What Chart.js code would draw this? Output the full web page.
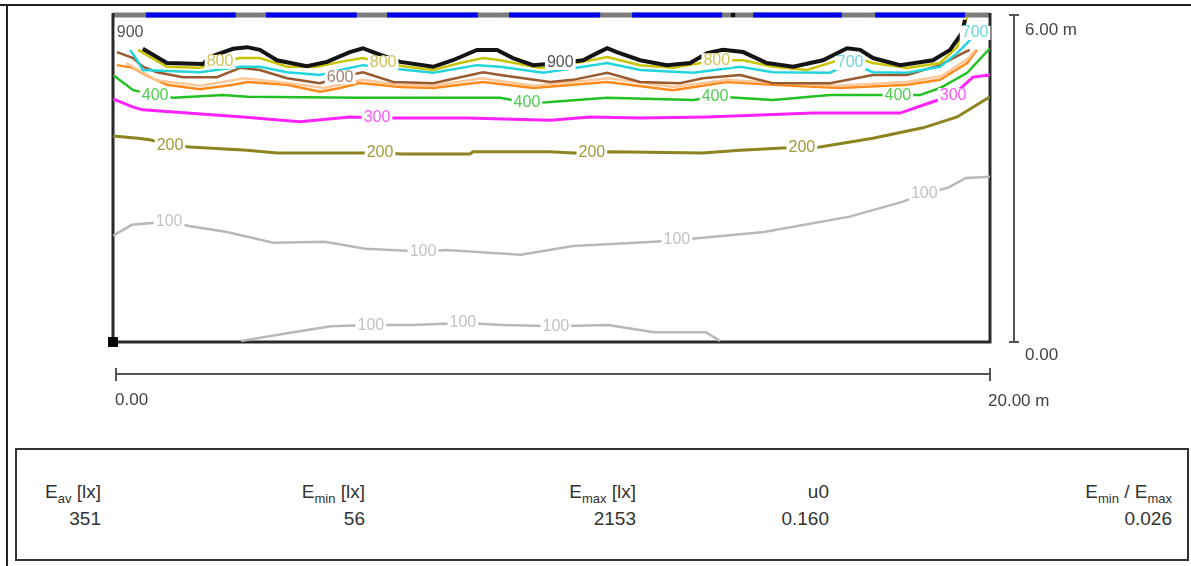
<!DOCTYPE html>
<html>
<head>
<meta charset="utf-8">
<script src="https://cdn.jsdelivr.net/npm/chart.js@4/dist/chart.umd.min.js"></script>
<style>
  body { margin: 0; width: 1191px; height: 566px; overflow: hidden; position: relative; background: #fff;
         font-family: "Liberation Sans", Arial, sans-serif; }
  #plot { position: absolute; left: 0; top: 0; }
  .edgeTop { position: absolute; left: 0; top: 4px; width: 1191px; height: 2px; background: #222; }
  .edgeLeft { position: absolute; left: 6px; top: 4px; width: 2px; height: 562px; background: #222; }
  .stats { position: absolute; left: 15px; top: 448px; width: 1174px; height: 113px; border: 2px solid #333; box-sizing: border-box; }
  .cell { position: absolute; width: 240px; text-align: right; color: #333; font-size: 19px; line-height: 22px; white-space: nowrap; }
  .cell sub { font-size: 13px; vertical-align: -5px; }
</style>
</head>
<body>
<div class="edgeTop"></div>
<div class="edgeLeft"></div>
<canvas id="plot" width="1191" height="440"></canvas>
<div class="stats"></div>
<div id="cells"></div>
<script>
// room size [m]
const roomWidth = 20;
const roomDepth = 6;

// windows on the top wall [m]
const windowStart = [0.75, 3.49, 6.25, 9.03, 11.84, 14.60, 17.38];
const windowEnd = [2.80, 5.56, 8.32, 11.11, 13.89, 16.62, 19.43];
const wallMarkX = [14.14];

// isolux lines, [x m, y m]
const lux900 = [[0.68,5.38],[1.23,5.12],[2.05,5.10],[2.21,5.23],[2.74,5.38],[3.06,5.41],[3.35,5.36],[3.74,5.17],[4.42,5.06],[4.88,5.14],[5.40,5.32],[5.70,5.39],[5.93,5.32],[6.55,5.14],[7.30,5.05],[7.75,5.17],[8.30,5.36],[8.76,5.36],[9.12,5.21],[9.58,5.08],[10.2,5.12],[10.72,5.17],[11.04,5.30],[11.27,5.39],[11.49,5.32],[12.02,5.17],[12.63,5.08],[13.16,5.12],[13.55,5.30],[13.91,5.36],[14.37,5.32],[14.91,5.12],[15.51,5.05],[16.19,5.17],[16.74,5.39],[17.04,5.36],[17.33,5.21],[17.95,5.08],[18.70,5.17],[19.09,5.36],[19.36,5.67],[19.43,5.91]];
const lux800 = [[0.57,5.36],[1.23,5.05],[1.98,5.03],[2.44,5.14],[2.90,5.21],[3.35,5.21],[3.97,5.05],[4.65,5.05],[5.18,5.14],[5.70,5.21],[6.16,5.12],[6.70,5.05],[7.30,4.99],[7.91,5.12],[8.44,5.21],[8.83,5.17],[9.74,5.03],[10.72,5.14],[11.27,5.23],[12.02,5.08],[12.77,5.03],[13.77,5.17],[14.37,5.17],[15.05,5.05],[15.83,4.99],[16.42,5.14],[16.88,5.23],[17.33,5.12],[18.11,5.03],[18.86,5.12],[19.25,5.41],[19.38,5.78],[19.48,5.96]];
const lux700 = [[0.39,5.36],[0.55,5.17],[0.68,4.99],[1.98,4.95],[2.90,5.05],[3.35,5.05],[3.97,4.95],[4.72,4.90],[5.18,4.99],[5.70,5.08],[6.70,4.99],[7.30,4.94],[8.30,5.08],[8.83,5.05],[9.81,4.94],[10.72,5.05],[11.27,5.12],[12.02,4.99],[13.23,4.94],[14.30,5.05],[15.05,4.95],[16.35,4.94],[16.81,5.12],[17.33,4.95],[18.11,4.94],[18.86,5.05],[19.25,5.30],[19.50,5.50],[19.62,5.62]];
const lux600 = [[0.09,5.32],[0.46,5.21],[0.68,5.05],[1.00,4.95],[1.60,4.86],[2.37,4.86],[2.90,5.03],[3.35,4.99],[3.97,4.84],[4.72,4.75],[5.18,4.86],[5.70,4.95],[6.39,4.77],[7.30,4.75],[8.44,4.95],[8.83,4.90],[9.97,4.77],[10.49,4.81],[11.27,4.94],[12.02,4.77],[12.93,4.75],[13.45,4.84],[14.30,4.90],[15.05,4.75],[16.35,4.75],[17.33,4.90],[18.11,4.90],[18.86,5.08],[19.38,5.30],[19.54,5.36]];
const lux550 = [[0.30,5.12],[1.00,4.80],[2.00,4.70],[3.00,4.84],[4.00,4.75],[4.80,4.66],[5.70,4.81],[6.50,4.72],[7.30,4.70],[8.40,4.84],[9.60,4.70],[11.30,4.84],[12.80,4.68],[14.00,4.81],[15.10,4.75],[16.50,4.70],[18.10,4.77],[18.90,4.88],[19.50,5.20],[19.65,5.35]];
const lux500 = [[0.09,5.08],[0.46,5.03],[0.84,4.86],[1.23,4.72],[1.98,4.64],[2.74,4.72],[3.06,4.77],[3.97,4.72],[4.72,4.59],[5.18,4.66],[5.63,4.75],[6.55,4.68],[7.30,4.66],[8.44,4.77],[9.58,4.66],[11.27,4.77],[12.77,4.62],[14.00,4.77],[15.05,4.72],[16.58,4.66],[18.11,4.72],[18.86,4.81],[19.48,5.12],[19.70,5.36]];
const lux400 = [[0,4.90],[0.46,4.62],[0.96,4.53],[1.37,4.48],[2.51,4.53],[3.06,4.50],[5.63,4.48],[8.83,4.48],[9.44,4.39],[9.90,4.40],[11.27,4.48],[13.23,4.44],[13.73,4.50],[14.23,4.48],[15.05,4.44],[16.35,4.53],[17.42,4.53],[17.90,4.53],[18.40,4.53],[18.86,4.66],[19.48,4.94],[20,5.39]];
const lux300 = [[0,4.46],[0.46,4.31],[0.68,4.26],[2.96,4.13],[4.26,4.04],[5.40,4.13],[6.02,4.11],[6.48,4.11],[8.07,4.11],[9.97,4.07],[10.88,4.13],[12.02,4.11],[13.55,4.13],[15.96,4.20],[17.95,4.20],[18.63,4.39],[19.16,4.53],[19.61,4.86],[20,4.90]];
const lux200 = [[0,3.78],[0.57,3.74],[0.84,3.71],[1.30,3.61],[1.76,3.58],[3.06,3.52],[3.74,3.47],[5.70,3.47],[6.09,3.47],[6.59,3.45],[8.14,3.45],[8.21,3.49],[9.97,3.49],[10.49,3.47],[10.92,3.47],[11.33,3.49],[13.45,3.47],[14.30,3.52],[15.28,3.56],[15.71,3.56],[16.12,3.58],[17.33,3.74],[18.47,3.93],[19.25,4.13],[20,4.50]];
const lux100 = [[0,1.95],[0.43,2.15],[1.28,2.21],[1.73,2.13],[2.60,2.02],[3.65,1.82],[4.83,1.84],[5.75,1.71],[7.07,1.66],[7.60,1.69],[9.30,1.60],[10.49,1.76],[12.34,1.84],[12.86,1.87],[13.39,1.91],[14.85,2.02],[16.80,2.30],[18.00,2.57],[18.50,2.73],[19.04,2.83],[19.45,3.01],[20,3.03]];
const lux100b = [[2.92,0.02],[4.04,0.17],[4.97,0.29],[5.88,0.31],[6.82,0.31],[7.98,0.35],[8.92,0.31],[10.10,0.29],[11.29,0.31],[12.34,0.18],[13.52,0.18],[13.84,0.02]];

// line labels: [x, y, text]
const labels900 = [[0.39,5.67,'900'],[10.2,5.12,'900']];
const labels800 = [[2.44,5.14,'800'],[6.16,5.12,'800'],[13.77,5.17,'800']];
const labels700 = [[16.81,5.12,'700'],[19.66,5.67,'700']];
const labels600 = [[5.18,4.86,'600']];
const labels400 = [[0.96,4.53,'400'],[9.44,4.39,'400'],[13.73,4.50,'400'],[17.90,4.53,'400']];
const labels300 = [[6.02,4.11,'300'],[19.16,4.53,'300']];
const labels200 = [[1.30,3.61,'200'],[6.09,3.47,'200'],[10.92,3.47,'200'],[15.71,3.56,'200']];
const labels100 = [[1.28,2.21,'100'],[7.07,1.66,'100'],[12.86,1.87,'100'],[18.50,2.73,'100'],[5.88,0.31,'100'],[7.98,0.35,'100'],[10.10,0.29,'100']];

// results table
const statHeads = ['E<sub>av</sub> [lx]', 'E<sub>min</sub> [lx]', 'E<sub>max</sub> [lx]', 'u0', 'E<sub>min</sub> / E<sub>max</sub>'];
const statValues = ['351', '56', '2153', '0.160', '0.026'];
const statRight = [101, 365, 636, 829, 1172];

const pts = arr => arr.map(p => ({ x: p[0], y: p[1] }));

const windowPts = [];
windowStart.forEach((s, i) => {
  windowPts.push({ x: s, y: roomDepth }, { x: windowEnd[i], y: roomDepth }, { x: windowEnd[i], y: null });
});

function contour (data, color, width) {
  return { data: pts(data), borderColor: color, borderWidth: width || 2.5, pointRadius: 0, tension: 0 };
}

const labelSets = [
  [labels100, '#c2c2c2'], [labels200, '#a39b3a'], [labels300, '#ff55ff'], [labels400, '#4fcf4f'],
  [labels600, '#a48272'], [labels700, '#6fd6df'], [labels800, '#cfc55a'], [labels900, '#555555']
];

// frame, labels and dimension lines
const plotDeco = {
  id: 'plotDeco',
  beforeDatasetsDraw (chart) {
    const { ctx, chartArea: a } = chart;
    ctx.save();
    ctx.strokeStyle = '#7c7c7c';
    ctx.lineWidth = 5;
    ctx.beginPath(); ctx.moveTo(a.left, a.top); ctx.lineTo(a.right, a.top); ctx.stroke();
    ctx.strokeStyle = '#2a2a2a';
    ctx.lineWidth = 3;
    ctx.beginPath();
    ctx.moveTo(a.left, a.top - 2); ctx.lineTo(a.left, a.bottom); ctx.lineTo(a.right, a.bottom); ctx.lineTo(a.right, a.top - 2);
    ctx.stroke();
    ctx.restore();
  },
  afterDatasetsDraw (chart) {
    const { ctx } = chart;
    const xs = chart.scales.x, ys = chart.scales.y;
    ctx.save();
    ctx.font = '16px "Liberation Sans", Arial';
    ctx.textAlign = 'center';
    ctx.textBaseline = 'middle';
    labelSets.forEach(([set, color]) => {
      set.forEach(([x, y, t]) => {
        const px = xs.getPixelForValue(x), py = ys.getPixelForValue(y);
        const w = ctx.measureText(t).width;
        ctx.fillStyle = '#fff';
        ctx.fillRect(px - w / 2 - 2, py - 7, w + 4, 14);
        ctx.fillStyle = color;
        ctx.fillText(t, px, py);
      });
    });
    ctx.restore();
  },
  afterDraw (chart) {
    const { ctx } = chart;
    const xs = chart.scales.x, ys = chart.scales.y;
    const x0 = xs.getPixelForValue(0), x1 = xs.getPixelForValue(roomWidth);
    const y0 = ys.getPixelForValue(0), y1 = ys.getPixelForValue(roomDepth);
    const dimX = x1 + 24, dimY = y0 + 32;
    ctx.save();
    ctx.strokeStyle = '#555';
    ctx.lineWidth = 2;
    ctx.beginPath();
    ctx.moveTo(dimX, y1); ctx.lineTo(dimX, y0);
    ctx.moveTo(dimX - 5, y1); ctx.lineTo(dimX + 5, y1);
    ctx.moveTo(dimX - 5, y0); ctx.lineTo(dimX + 5, y0);
    ctx.moveTo(x0 + 3, dimY); ctx.lineTo(x1, dimY);
    ctx.moveTo(x0 + 3, dimY - 6); ctx.lineTo(x0 + 3, dimY + 7);
    ctx.moveTo(x1, dimY - 6); ctx.lineTo(x1, dimY + 7);
    ctx.stroke();
    ctx.fillStyle = '#444';
    ctx.font = '17px "Liberation Sans", Arial';
    ctx.textBaseline = 'middle';
    ctx.textAlign = 'left';
    ctx.fillText(roomDepth.toFixed(2) + ' m', dimX + 11, y1 + 15);
    ctx.fillText((0).toFixed(2), dimX + 11, y0 + 13);
    ctx.fillText((0).toFixed(2), x0 + 2, dimY + 26);
    ctx.fillText(roomWidth.toFixed(2) + ' m', x1 - 2, dimY + 27);
    ctx.restore();
  }
};

new Chart(document.getElementById('plot'), {
  type: 'line',
  data: {
    datasets: [
      { data: windowPts, borderColor: '#0000ee', borderWidth: 5, pointRadius: 0, spanGaps: false, clip: false, borderCapStyle: 'butt' },
      { data: wallMarkX.map(x => ({ x, y: roomDepth })), showLine: false, pointStyle: 'rect', pointRadius: 3, backgroundColor: '#111', borderWidth: 0, clip: false },
      { data: [{ x: 0, y: 0 }], showLine: false, pointStyle: 'rect', pointRadius: 7, backgroundColor: '#000', borderWidth: 0, clip: false },
      contour(lux900, '#141414', 4),
      contour(lux800, '#c8c400', 2.5),
      contour(lux700, '#22d4dc', 2.5),
      contour(lux600, '#9a5a30', 2.5),
      contour(lux550, '#ffc79a', 2.5),
      contour(lux500, '#ff8a1a', 2.5),
      contour(lux400, '#22c022', 2.5),
      contour(lux300, '#ff22ff', 3),
      contour(lux200, '#8c8420', 3),
      contour(lux100, '#b8b8b8', 2.5),
      contour(lux100b, '#b8b8b8', 2.5)
    ]
  },
  options: {
    responsive: false,
    animation: false,
    devicePixelRatio: 1,
    layout: { padding: { left: 113, top: 15, right: 201, bottom: 98 } },
    scales: {
      x: { type: 'linear', min: 0, max: roomWidth, display: false },
      y: { type: 'linear', min: 0, max: roomDepth, display: false }
    },
    plugins: { legend: { display: false }, tooltip: { enabled: false } }
  },
  plugins: [plotDeco]
});

// results table
const cells = document.getElementById('cells');
statHeads.forEach((h, i) => {
  const head = document.createElement('div');
  head.className = 'cell';
  head.style.left = (statRight[i] - 240) + 'px';
  head.style.top = '481px';
  head.innerHTML = h;
  cells.appendChild(head);
  const val = document.createElement('div');
  val.className = 'cell';
  val.style.left = (statRight[i] - 240) + 'px';
  val.style.top = '508px';
  val.textContent = statValues[i];
  cells.appendChild(val);
});
</script>
</body>
</html>
